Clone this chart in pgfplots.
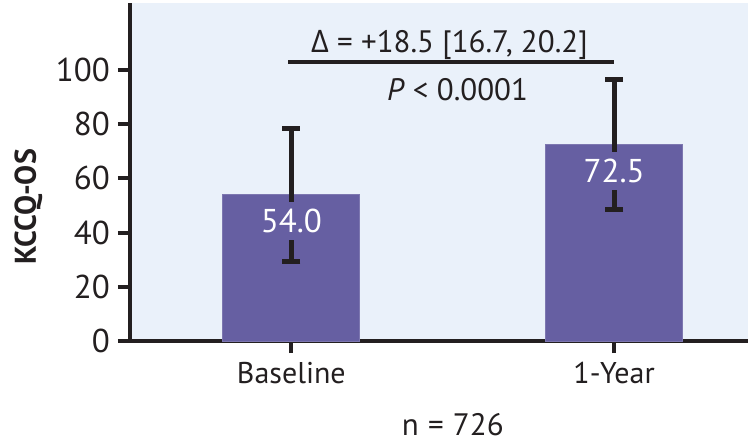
\documentclass[border=0pt]{standalone}
\usepackage{fontspec}
\setmainfont{PT Sans}
\newfontfamily\gk{Open Sans}
\usepackage{pgfplots}
\pgfplotsset{compat=1.18}
\definecolor{bg}{HTML}{EAF1FA}
\definecolor{barc}{HTML}{665FA2}
\definecolor{ink}{HTML}{231F20}
\begin{document}
\begin{tikzpicture}
\begin{axis}[
  scale only axis, width=309pt, height=169pt,
  xmin=-0.5, xmax=1.415, ymin=0, ymax=124.7,
  axis background/.style={fill=bg},
  axis x line*=bottom, axis y line*=left,
  axis line style={line width=2pt, color=ink},
  xtick={0,1}, xticklabels={Baseline,1-Year},
  ytick={0,20,40,60,80,100},
  tick align=outside, major tick length=6pt,
  tick style={line width=2pt, color=ink},
  font=\fontsize{15}{18}\selectfont,
  /pgf/number format/assume math mode=true,
  ticklabel style={text=ink},
  yticklabel style={font=\fontsize{16.5}{19}\selectfont, xshift=-0.5pt},
  xticklabel style={font=\fontsize{15}{18}\selectfont, yshift=-1pt},
  ylabel={\bfseries KCCQ-OS},
  ylabel style={at={(ticklabel cs:0.397)}, font=\fontsize{15}{18}\selectfont, text=ink},
  xlabel={n\hspace{0.3em}=\hspace{0.3em}726},
  xlabel style={at={(axis cs:0.5,0)}, anchor=base, yshift=-47pt, font=\fontsize{15.5}{18}\selectfont, text=ink},
  clip=false,
]
\addplot[ybar, bar width=68.5pt, fill=barc, draw=barc!85!white, line width=0.4pt,
  error bars/.cd, y dir=both, y explicit,
  error bar style={line width=2.5pt, color=ink},
  error mark options={rotate=90, mark size=4.5pt, line width=2.5pt, color=ink}]
  coordinates {(0,54) +- (0,24.5) (1,72.5) +- (0,24)};
\addplot[draw=none, mark=none, nodes near coords, point meta=explicit symbolic,
  nodes near coords style={fill=barc, text=white, anchor=center, inner xsep=3pt, inner ysep=0pt,
    minimum height=19pt, font=\fontsize{16.5}{19}\selectfont}]
  coordinates {(0,44.3)[54.0] (1,62.7)[72.5]};
\addplot[ink, line width=1.8pt] coordinates {(-0.01,103) (1,103)};
\node[anchor=base, text=ink, font=\fontsize{15.5}{18}\selectfont] at (axis cs:0.49,106.3) {{\gk Δ} = +18.5 [16.7, 20.2]};
\node[anchor=base, text=ink, font=\fontsize{15.5}{18}\selectfont] at (axis cs:0.515,88.9) {\textit{P} < 0.0001};
\coordinate (sw) at (rel axis cs:0,0);
\end{axis}
\pgfresetboundingbox
\path[use as bounding box] (sw) ++(-65pt,-52.5pt) rectangle ++(377pt,223pt);
\end{tikzpicture}
\end{document}
